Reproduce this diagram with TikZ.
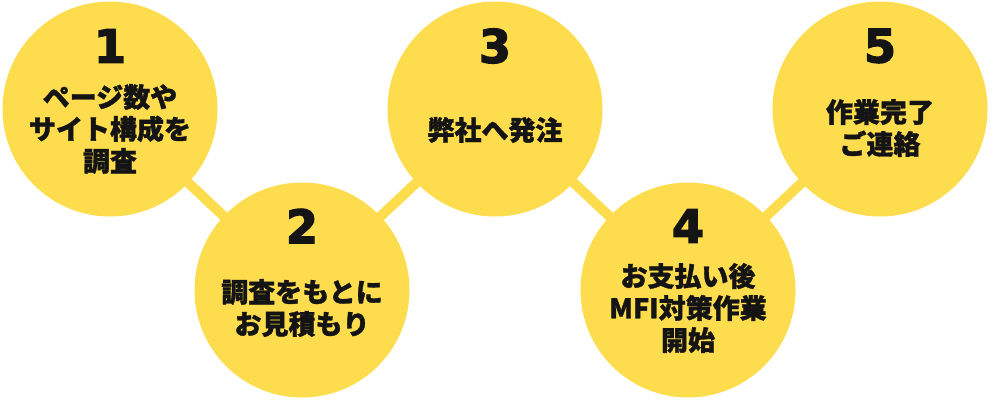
\documentclass[tikz,border=0pt]{standalone}
\usepackage{fontspec}
\usetikzlibrary{backgrounds}
\newfontfamily\jpfont{Noto Sans CJK JP}[UprightFont=* Black, FakeBold=1.2]
\newfontfamily\numfont{DejaVu Sans}[UprightFont=* Bold, FakeBold=3]
\definecolor{yel}{HTML}{FDDC4D}
\definecolor{txt}{HTML}{141414}
\tikzset{
  stepcircle/.style={circle, fill=yel, minimum size=215pt, inner sep=0pt},
  link/.style={draw=yel, line width=10pt},
  num/.style={font=\numfont\fontsize{46}{46}\selectfont, text=txt, inner sep=0pt},
  lbl/.style={font=\jpfont\fontsize{27}{32}\selectfont, align=center, text=txt, inner sep=0pt}
}
\begin{document}
\begin{tikzpicture}[x=1pt,y=-1pt]
\useasboundingbox (0,0) rectangle (1000,400);
\node[stepcircle] (c1) at (110,109) {};
\node[stepcircle] (c2) at (302,290) {};
\node[stepcircle] (c3) at (495,109) {};
\node[stepcircle] (c4) at (688,290) {};
\node[stepcircle] (c5) at (880,109) {};
\begin{scope}[on background layer]
\draw[link] (c1.center) -- (c2.center) -- (c3.center) -- (c4.center) -- (c5.center);
\end{scope}
\node[num] (n1) at (110,46) {1};
\node[num] (n2) at (302,226) {2};
\node[num] (n3) at (495,46) {3};
\node[num] (n4) at (688,226) {4};
\node[num] (n5) at (880,46) {5};
\node[lbl] (t1) at (110,129) {ページ数や\\サイト構成を\\調査};
\node[lbl] (t2) at (302,308) {調査をもとに\\お見積もり};
\node[lbl] (t3) at (495,130) {弊社へ発注};
\node[lbl] (t4) at (688,308) {お支払い後\\MFI対策作業\\開始};
\node[lbl] (t5) at (880,128) {作業完了\\ご連絡};
\end{tikzpicture}
\end{document}
